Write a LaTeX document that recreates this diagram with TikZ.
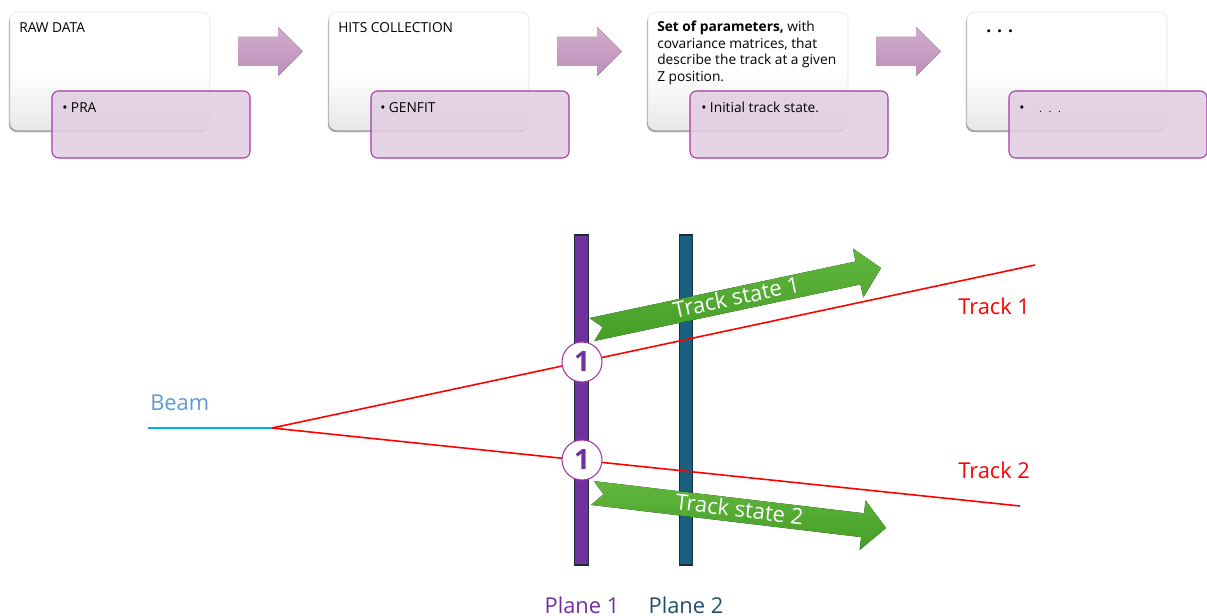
\documentclass[tikz,border=0pt]{standalone}
\usepackage{fontspec}
\setmainfont{Open Sans}
\usetikzlibrary{shadows}
\definecolor{boxpurple}{RGB}{225,205,225}
\definecolor{boxborder}{RGB}{168,55,165}
\definecolor{arrowtop}{RGB}{210,172,206}
\definecolor{arrowbot}{RGB}{188,143,184}
\definecolor{planeA}{HTML}{7030A0}
\definecolor{planeB}{HTML}{195F80}
\definecolor{planeedge}{HTML}{1C2B3A}
\definecolor{greenT}{RGB}{98,182,62}
\definecolor{greenB}{RGB}{68,158,38}
\definecolor{beamblue}{HTML}{00B0F0}
\definecolor{beamtext}{HTML}{5B9BD5}
\definecolor{planeBtext}{HTML}{1F4E69}
\begin{document}
\begin{tikzpicture}[x=0.75pt,y=-0.75pt,
  whitebox/.style={draw=black!10, line width=0.4pt, rounded corners=6pt,
    top color=white, bottom color=black!9, middle color=white,
    minimum width=150pt, minimum height=88.5pt, inner sep=0pt,
    drop shadow={shadow xshift=-0.8pt, shadow yshift=-1.6pt, opacity=0.45, fill=black!80}},
  pinkbox/.style={draw=boxborder, line width=0.8pt, rounded corners=5pt,
    fill=boxpurple, fill opacity=0.85, minimum width=148.5pt,
    minimum height=50.25pt, inner sep=0pt},
  flowarrow/.style={top color=arrowtop, bottom color=arrowbot, draw=none},
  lbl/.style={inner sep=0pt, font=\fontsize{10.3}{12.4}\selectfont},
  plane/.style={draw=planeedge, line width=0.9pt, minimum width=10pt,
    minimum height=247.5pt, inner sep=0pt},
  hit/.style={circle, draw=boxborder, line width=0.8pt, fill=white,
    minimum size=30pt, inner sep=0pt, text=planeA,
    font=\fontsize{21}{21}\selectfont\bfseries},
  track/.style={red, line width=1.2pt},
  beam/.style={beamblue, line width=1.5pt},
  greenarrow/.style={top color=greenT, bottom color=greenB, draw=none},
  gtext/.style={text=white, font=\fontsize{16.5}{16.5}\selectfont,
    transform shape, inner sep=0pt},
  big/.style={inner sep=0pt, font=\fontsize{16.4}{16.4}\selectfont}
]
\useasboundingbox (0,0) rectangle (1207,616);

% top flow
\node[whitebox] (w1) at (110,71) {};
\node[whitebox] (w2) at (429,71) {};
\node[whitebox] (w3) at (748,71) {};
\node[whitebox] (w4) at (1067,71) {};

\node[lbl, anchor=base west] (t1) at (19,33) {RAW DATA};
\node[lbl, anchor=base west] (t2) at (338,33) {HITS COLLECTION};
\node[lbl, anchor=north west, align=left] (t3) at (657,21)
  {\textbf{Set of parameters,} with\\covariance matrices, that\\describe the track at a given\\Z position.};
\node[lbl, anchor=base west, font=\fontsize{13}{13}\selectfont\bfseries] (t4) at (986,33) {. . .};

\node[pinkbox] (p1) at (151,124.5) {};
\node[pinkbox] (p2) at (470,124.5) {};
\node[pinkbox] (p3) at (789,124.5) {};
\node[pinkbox] (p4) at (1108,124.5) {};

\node[lbl, anchor=base west] (b1) at (62,113) {• PRA};
\node[lbl, anchor=base west] (b2) at (380,113) {• GENFIT};
\node[lbl, anchor=base west] (b3) at (701,113) {• Initial track state.};
\node[lbl, anchor=base west] (b4) at (1019,113)
  {•\hspace{11pt}{\fontsize{8}{8}\selectfont .\hspace{5pt}.\hspace{5pt}.}};

\foreach \b in {238,557,876} {
  \fill[flowarrow] (\b,37) -- (\b+40,37) -- (\b+40,27) -- (\b+65,51.5)
    -- (\b+40,76) -- (\b+40,66) -- (\b,66) -- cycle;
}

% detector planes
\coordinate (bs) at (148,428);
\coordinate (vx) at (272,428);
\coordinate (e1) at (1035,265);
\coordinate (e2) at (1020,506);

\node[plane, fill=planeA] (pl1) at (581.5,400) {};
\node[plane, fill=planeB] (pl2) at (686,400) {};

\draw[beam] (bs) -- (vx);
\draw[track] (vx) -- (e1);
\draw[track] (vx) -- (e2);

\node[hit] (h1) at (582,362) {1};
\node[hit] (h2) at (582,460) {1};

\begin{scope}[shift={(592,329.5)}, rotate=12]
  \fill[greenarrow] (0,-11.7) -- (272,-11.7) -- (272,-25) -- (295.5,0)
    -- (272,25) -- (272,11.7) -- (0,11.7) -- (11,0) -- cycle;
  \node[gtext] (ts1) at (148,-2) {Track state 1};
\end{scope}
\begin{scope}[shift={(592.5,493)}, rotate=-6.8]
  \fill[greenarrow] (0,-12) -- (272,-12) -- (272,-25) -- (295.6,0)
    -- (272,25) -- (272,12) -- (0,12) -- (11,0) -- cycle;
  \node[gtext] (ts2) at (148,-1.5) {Track state 2};
\end{scope}

\node[big, text=red, anchor=base west] (tr1) at (958,315) {Track 1};
\node[big, text=red, anchor=base west] (tr2) at (958,479) {Track 2};
\node[big, text=beamtext, anchor=base west] (bm) at (150,411) {Beam};
\node[big, text=planeA, anchor=base] (pl1l) at (582,613) {Plane 1};
\node[big, text=planeBtext, anchor=base] (pl2l) at (686,613) {Plane 2};
\end{tikzpicture}
\end{document}
